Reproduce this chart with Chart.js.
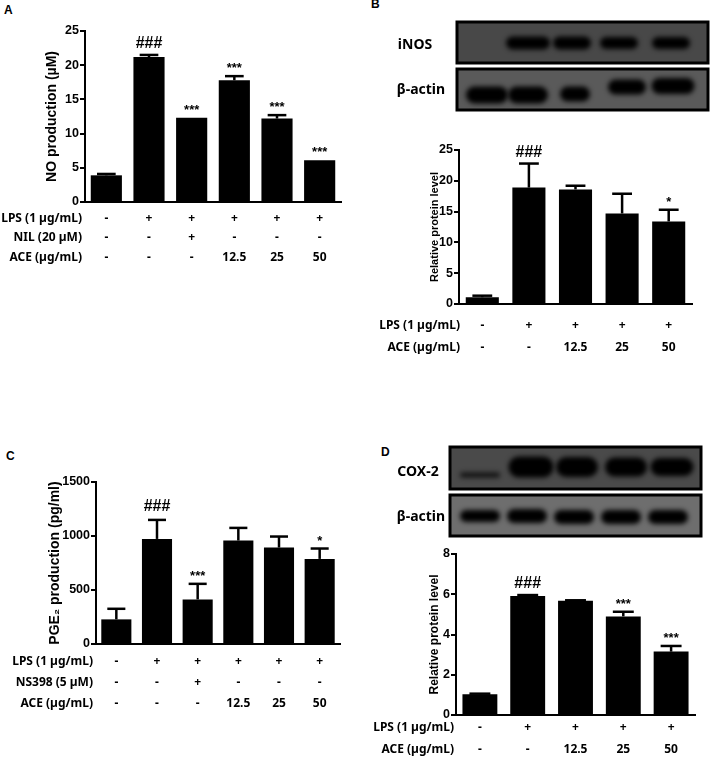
<!DOCTYPE html>
<html>
<head>
<meta charset="utf-8">
<script src="https://cdn.jsdelivr.net/npm/chart.js@4.4.1/dist/chart.umd.min.js"></script>
<style>
  body { margin: 0; background: #fff; width: 710px; height: 758px; position: relative; overflow: hidden; }
  canvas { position: absolute; }
  .letter { position: absolute; font: bold 12px "Liberation Sans", Arial, sans-serif; color: #000; }
</style>
</head>
<body>
<div class="letter" style="left:4px;top:3px">A</div>
<div class="letter" style="left:371px;top:-3px">B</div>
<div class="letter" style="left:6px;top:449px">C</div>
<div class="letter" style="left:381px;top:445px">D</div>

<canvas id="chartA" width="355" height="275" style="left:0;top:0"></canvas>
<canvas id="blotB" width="350" height="120" style="left:360px;top:0"></canvas>
<canvas id="chartB" width="350" height="260" style="left:360px;top:120px"></canvas>
<canvas id="chartC" width="355" height="378" style="left:0;top:380px"></canvas>
<canvas id="blotD" width="350" height="160" style="left:360px;top:380px"></canvas>
<canvas id="chartD" width="350" height="218" style="left:360px;top:540px"></canvas>

<script>
// ---- data ----
// A: NO production
const lpsA = ['-', '+', '+', '+', '+', '+'];
const nilA = ['-', '-', '+', '-', '-', '-'];
const aceA = ['-', '-', '-', '12.5', '25', '50'];
const noMean = [3.9, 21.2, 12.3, 17.8, 12.2, 6.1];
const noErr = [0.2, 0.3, 0, 0.6, 0.5, 0];
const noSig = ['', '###', '***', '***', '***', '***'];

// B: iNOS relative protein level
const lpsB = ['-', '+', '+', '+', '+'];
const aceB = ['-', '-', '12.5', '25', '50'];
const inosMean = [1.1, 18.9, 18.6, 14.7, 13.4];
const inosErr = [0.25, 3.9, 0.6, 3.2, 1.9];
const inosSig = ['', '###', '', '', '*'];

// C: PGE2 production
const lpsC = ['-', '+', '+', '+', '+', '+'];
const nsC = ['-', '-', '+', '-', '-', '-'];
const aceC = ['-', '-', '-', '12.5', '25', '50'];
const pgeMean = [228, 973, 413, 958, 893, 788];
const pgeErr = [98, 176, 144, 117, 102, 96];
const pgeSig = ['', '###', '***', '', '', '*'];

// D: COX-2 relative protein level
const lpsD = ['-', '+', '+', '+', '+'];
const aceD = ['-', '-', '12.5', '25', '50'];
const coxMean = [1.03, 5.91, 5.68, 4.9, 3.15];
const coxErr = [0.03, 0.05, 0.02, 0.23, 0.28];
const coxSig = ['', '###', '', '***', '***'];

const NUM_FONT = '"Liberation Sans", Arial, sans-serif';
const LBL_FONT = '"Noto Sans", "Open Sans", sans-serif';

// error bars (upper half only) + significance marks
function errorBarPlugin(o) {
  return {
    id: 'errbars',
    afterDatasetsDraw(chart) {
      const ctx = chart.ctx;
      const ys = chart.scales.y;
      const meta = chart.getDatasetMeta(0);
      ctx.save();
      ctx.strokeStyle = '#000';
      ctx.fillStyle = '#000';
      meta.data.forEach((bar, i) => {
        const base = ys.getPixelForValue(o.means[i]);
        const top = ys.getPixelForValue(o.means[i] + o.errs[i]);
        if (o.errs[i] > 0) {
          ctx.lineWidth = 2.5;
          ctx.beginPath();
          ctx.moveTo(bar.x, base);
          ctx.lineTo(bar.x, top);
          ctx.stroke();
          const cw = bar.width * 0.6;
          ctx.beginPath();
          ctx.moveTo(bar.x - cw / 2, top);
          ctx.lineTo(bar.x + cw / 2, top);
          ctx.stroke();
        }
        const s = o.sig[i];
        if (s) {
          ctx.textAlign = 'center';
          ctx.textBaseline = 'alphabetic';
          if (s[0] == '#') {
            ctx.font = `bold 16px ${NUM_FONT}`;
            ctx.fillText(s, bar.x, top - (o.hashGap || 7));
          } else {
            ctx.font = `bold 13px ${NUM_FONT}`;
            ctx.fillText(s, bar.x, top - 4);
          }
        }
      });
      ctx.restore();
    }
  };
}

// treatment rows under the x axis
function rowsPlugin(o) {
  return {
    id: 'rows',
    afterDraw(chart) {
      const ctx = chart.ctx;
      const xs = chart.scales.x;
      ctx.save();
      ctx.fillStyle = '#000';
      ctx.font = `bold 12px ${LBL_FONT}`;
      ctx.textBaseline = 'middle';
      o.rows.forEach((row, r) => {
        const y = o.rowY[r];
        ctx.textAlign = 'right';
        ctx.fillText(row.name, o.rowLabelX, y);
        ctx.textAlign = 'center';
        row.values.forEach((v, i) => ctx.fillText(v, xs.getPixelForValue(i), y));
      });
      ctx.restore();
    }
  };
}

function makeBarChart(id, o) {
  const canvas = document.getElementById(id);
  const W = canvas.width, H = canvas.height;
  const [aL, aT, aR, aB] = o.area;
  const titleLeft = o.titleX - o.titleSize * 1.2 / 2;
  return new Chart(canvas, {
    type: 'bar',
    data: {
      labels: o.means.map((_, i) => String(i)),
      datasets: [{
        data: o.means,
        backgroundColor: '#000',
        borderWidth: 0,
        barPercentage: o.barPct,
        categoryPercentage: 1
      }]
    },
    options: {
      responsive: false,
      animation: false,
      devicePixelRatio: 1,
      layout: { padding: { left: titleLeft, top: aT, right: W - aR, bottom: 0 } },
      plugins: { legend: { display: false }, tooltip: { enabled: false } },
      scales: {
        x: {
          grid: { display: false },
          ticks: { display: false },
          border: { display: true, color: '#000', width: 2 },
          afterFit: s => { s.height = H - aB; }
        },
        y: {
          min: 0,
          max: o.max,
          ticks: {
            stepSize: o.step, color: '#000', padding: 1,
            font: { family: NUM_FONT, size: 12.5, weight: 'bold' },
            callback: v => String(v)
          },
          grid: { drawOnChartArea: false, drawTicks: true, tickLength: 5, color: '#000', lineWidth: 2 },
          border: { display: true, color: '#000', width: 2 },
          title: { display: true, text: o.title, color: '#000', padding: 0, font: { family: NUM_FONT, size: o.titleSize, weight: 'bold' } },
          afterFit: s => { s.width = aL - titleLeft; }
        }
      }
    },
    plugins: [errorBarPlugin(o), rowsPlugin(o)]
  });
}

makeBarChart('chartA', {
  means: noMean, errs: noErr, sig: noSig,
  max: 25, step: 5, title: 'NO production (µM)', titleSize: 14, titleX: 52,
  area: [85, 31, 341, 202], barPct: 0.73,
  rows: [
    { name: 'LPS (1 µg/mL)', values: lpsA },
    { name: 'NIL (20 µM)', values: nilA },
    { name: 'ACE (µg/mL)', values: aceA }
  ],
  rowY: [219, 238, 258], rowLabelX: 82
});

makeBarChart('chartB', {
  means: inosMean, errs: inosErr, sig: inosSig,
  max: 25, step: 5, title: 'Relative protein level', titleSize: 11, titleX: 75,
  area: [99, 30, 332, 184], barPct: 0.71,
  rows: [
    { name: 'LPS (1 µg/mL)', values: lpsB },
    { name: 'ACE (µg/mL)', values: aceB }
  ],
  rowY: [206, 228], rowLabelX: 100
});

makeBarChart('chartC', {
  means: pgeMean, errs: pgeErr, sig: pgeSig, hashGap: 9,
  max: 1500, step: 500, title: 'PGE₂ production (pg/ml)', titleSize: 14, titleX: 55,
  area: [96, 102, 340, 264], barPct: 0.74,
  rows: [
    { name: 'LPS (1 µg/mL)', values: lpsC },
    { name: 'NS398 (5 µM)', values: nsC },
    { name: 'ACE (µg/mL)', values: aceC }
  ],
  rowY: [282, 303, 324], rowLabelX: 93
});

makeBarChart('chartD', {
  means: coxMean, errs: coxErr, sig: coxSig,
  max: 8, step: 2, title: 'Relative protein level', titleSize: 12, titleX: 75,
  area: [96, 14, 335, 175], barPct: 0.73,
  rows: [
    { name: 'LPS (1 µg/mL)', values: lpsD },
    { name: 'ACE (µg/mL)', values: aceD }
  ],
  rowY: [188, 210], rowLabelX: 94
});

// ---- western blot strips ----
function drawBlot(ctx, box, bg, bands) {
  ctx.save();
  ctx.fillStyle = bg;
  ctx.fillRect(box.x, box.y, box.w, box.h);
  ctx.beginPath();
  ctx.rect(box.x, box.y, box.w, box.h);
  ctx.clip();
  ctx.filter = 'blur(2.5px)';
  ctx.fillStyle = '#000';
  bands.forEach(b => {
    ctx.globalAlpha = b.a || 1;
    ctx.beginPath();
    ctx.roundRect(b.x - b.w / 2, b.y - b.h / 2, b.w, b.h, b.h / 2);
    ctx.fill();
  });
  ctx.restore();
  ctx.save();
  ctx.lineWidth = 3;
  ctx.strokeStyle = '#000';
  ctx.strokeRect(box.x, box.y, box.w, box.h);
  ctx.restore();
}

function blotLabel(ctx, text, x, y) {
  ctx.save();
  ctx.fillStyle = '#000';
  ctx.font = `bold 14px ${LBL_FONT}`;
  ctx.textAlign = 'center';
  ctx.textBaseline = 'middle';
  ctx.fillText(text, x, y);
  ctx.restore();
}

const bctx = document.getElementById('blotB').getContext('2d');
drawBlot(bctx, { x: 97, y: 22, w: 251, h: 41 }, '#484848', [
  { x: 168, y: 43, w: 44, h: 13 },
  { x: 212, y: 43, w: 38, h: 13 },
  { x: 259, y: 43, w: 38, h: 12 },
  { x: 311, y: 43, w: 38, h: 12 }
]);
drawBlot(bctx, { x: 97, y: 69, w: 251, h: 41 }, '#5a5a5a', [
  { x: 127, y: 95, w: 42, h: 17 },
  { x: 168, y: 95, w: 40, h: 17 },
  { x: 215, y: 94, w: 30, h: 15 },
  { x: 267, y: 87, w: 38, h: 15 },
  { x: 313, y: 86, w: 43, h: 16 }
]);
blotLabel(bctx, 'iNOS', 55, 45);
blotLabel(bctx, 'β-actin', 61, 90);

const dctx = document.getElementById('blotD').getContext('2d');
drawBlot(dctx, { x: 90, y: 67, w: 251, h: 42 }, '#4a4a4a', [
  { x: 120, y: 95, w: 40, h: 5, a: 0.8 },
  { x: 171, y: 87, w: 45, h: 21 },
  { x: 217, y: 87, w: 42, h: 20 },
  { x: 266, y: 87, w: 42, h: 19 },
  { x: 312, y: 87, w: 43, h: 18 }
]);
drawBlot(dctx, { x: 90, y: 115, w: 251, h: 41 }, '#6e6e6e', [
  { x: 120, y: 136, w: 40, h: 12 },
  { x: 167, y: 136, w: 40, h: 14 },
  { x: 214, y: 137, w: 40, h: 14 },
  { x: 261, y: 137, w: 40, h: 14 },
  { x: 308, y: 137, w: 40, h: 14 }
]);
blotLabel(dctx, 'COX-2', 58, 92);
blotLabel(dctx, 'β-actin', 61, 137);
</script>
</body>
</html>
